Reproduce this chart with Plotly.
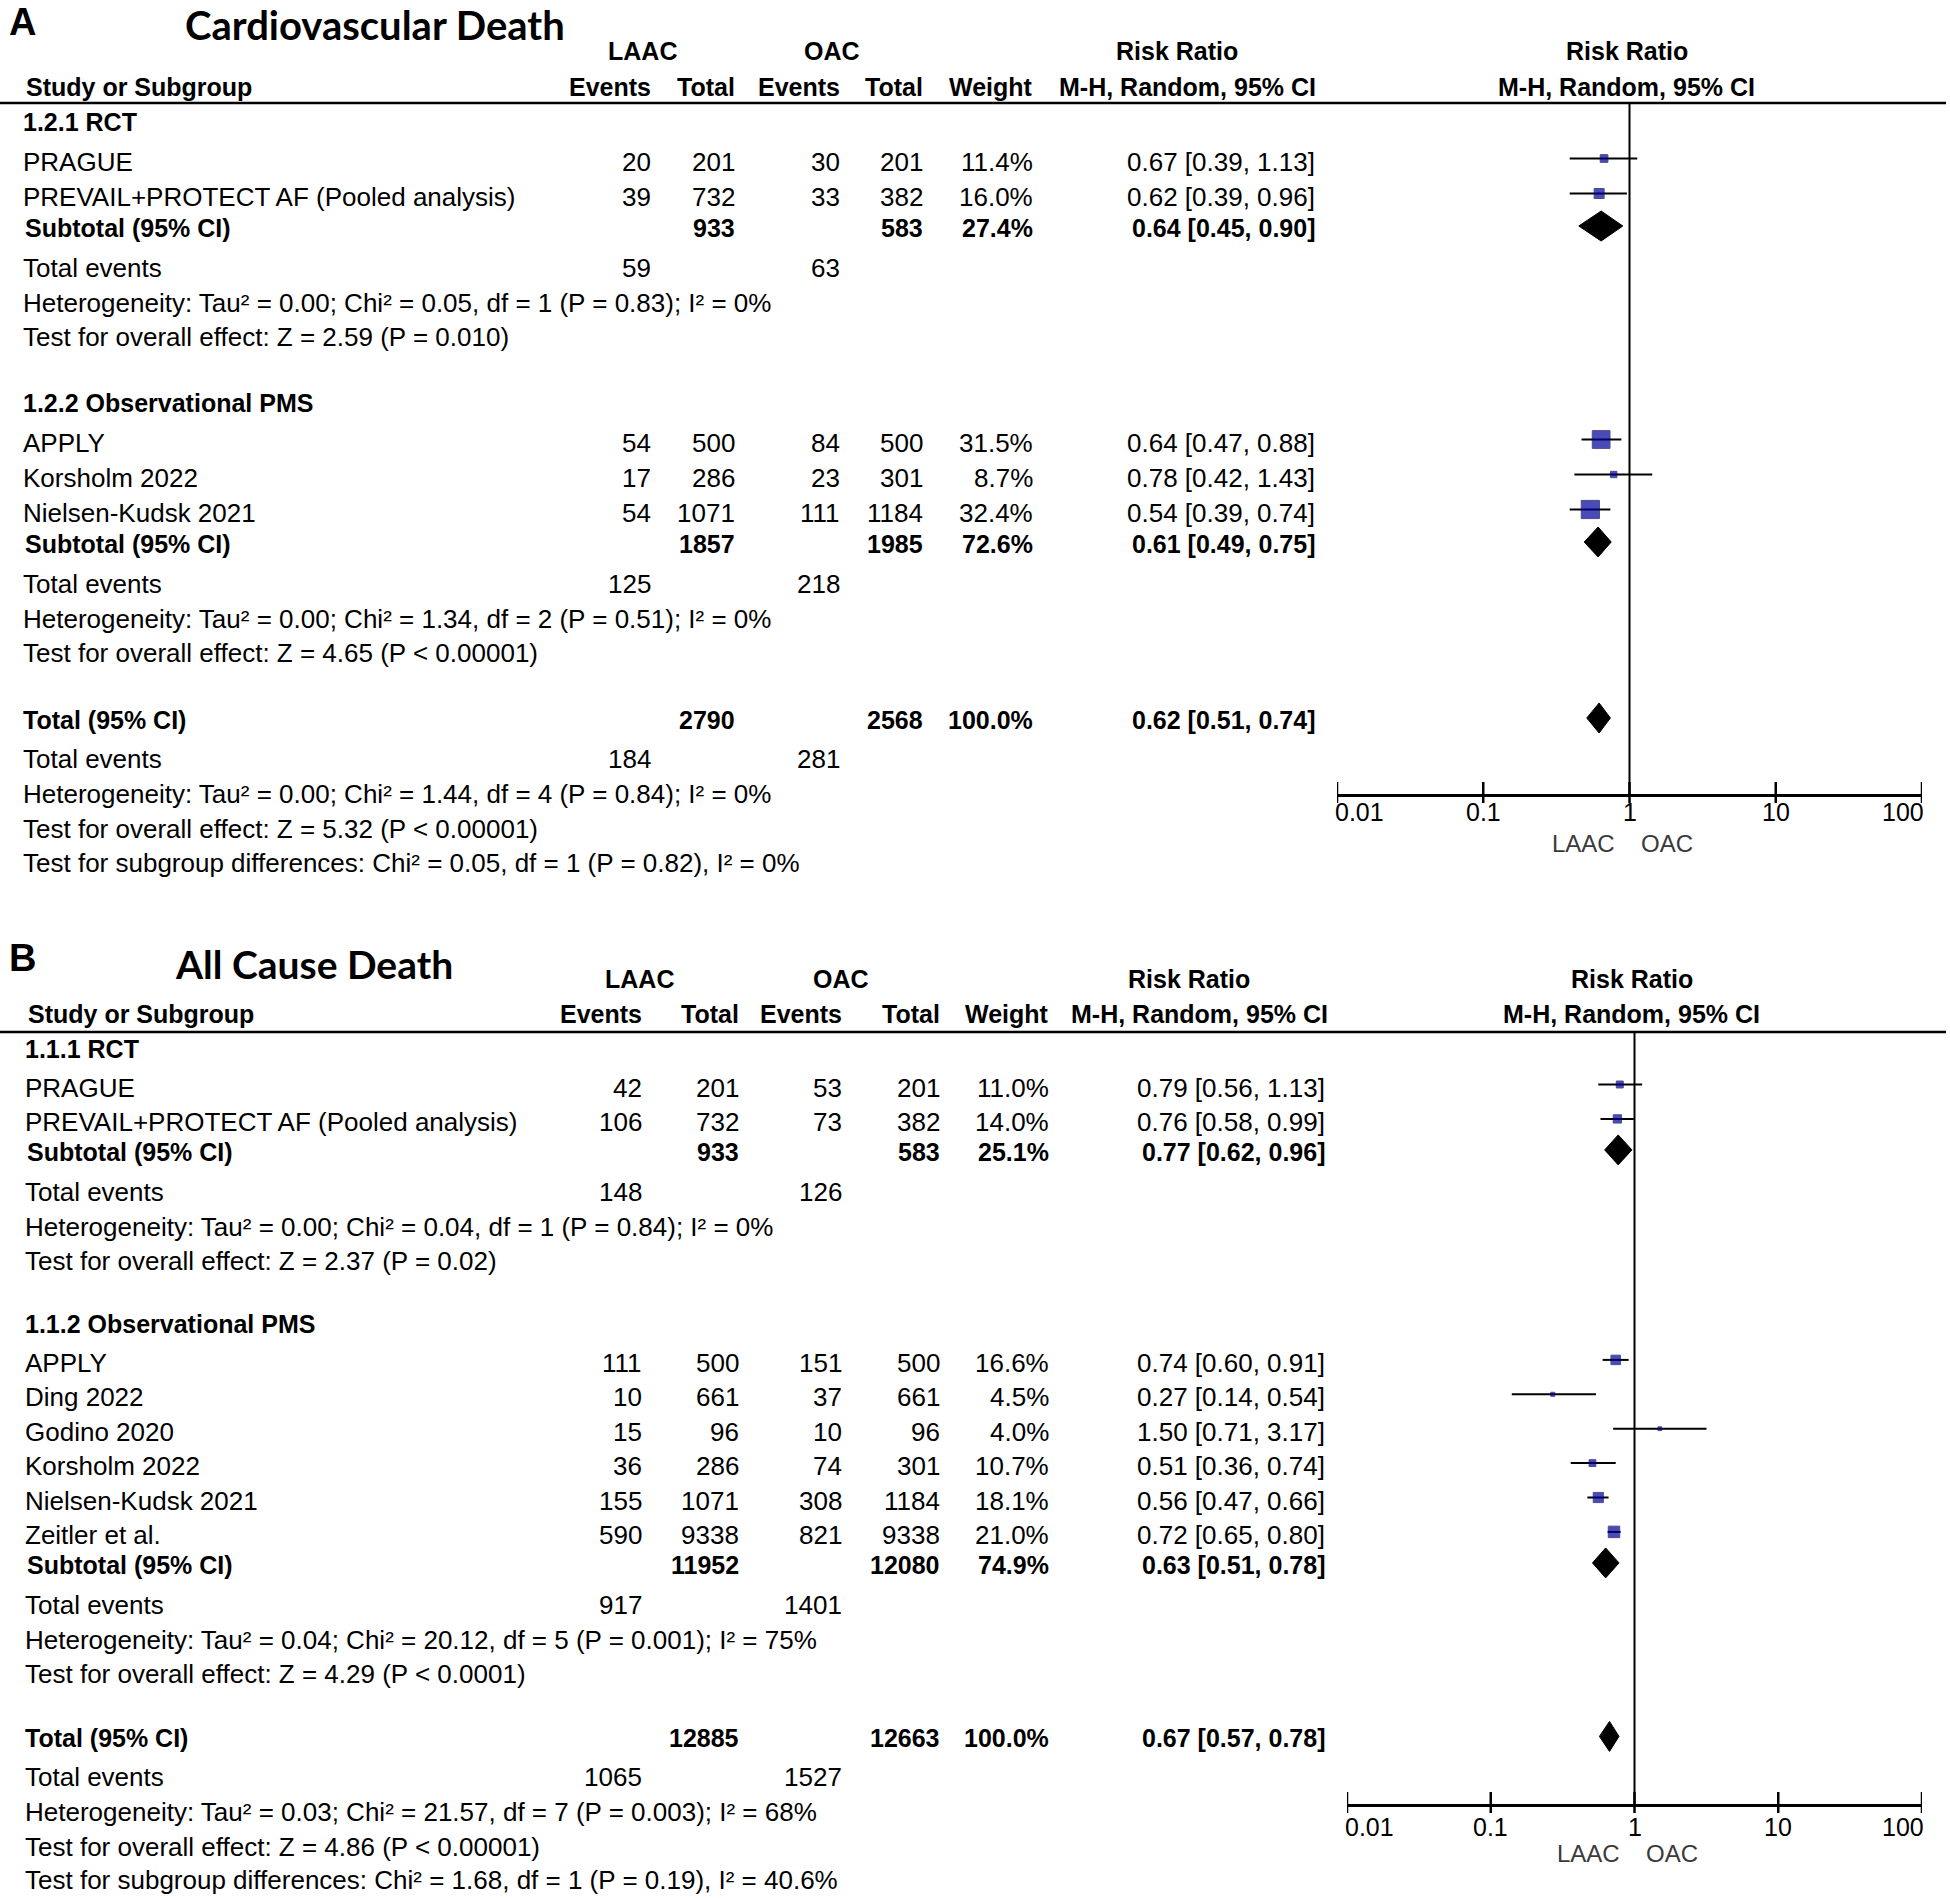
import math
import plotly.graph_objects as go

W, H = 1950, 1899
FONT = "Liberation Sans, Arial, sans-serif"
TITLE_FONT = "Lato, Liberation Sans, sans-serif"

# ---------------- Panel A data ----------------
a_title = "Cardiovascular Death"
a_groups = ["1.2.1 RCT", "1.2.2 Observational PMS"]
a_study = ["PRAGUE", "PREVAIL+PROTECT AF (Pooled analysis)", "APPLY", "Korsholm 2022", "Nielsen-Kudsk 2021"]
a_group_of = [0, 0, 1, 1, 1]
a_laac_events = [20, 39, 54, 17, 54]
a_laac_total = [201, 732, 500, 286, 1071]
a_oac_events = [30, 33, 84, 23, 111]
a_oac_total = [201, 382, 500, 301, 1184]
a_weight = [11.4, 16.0, 31.5, 8.7, 32.4]
a_rr = [0.67, 0.62, 0.64, 0.78, 0.54]
a_lo = [0.39, 0.39, 0.47, 0.42, 0.39]
a_hi = [1.13, 0.96, 0.88, 1.43, 0.74]
a_sub_laac_total = [933, 1857]
a_sub_oac_total = [583, 1985]
a_sub_weight = [27.4, 72.6]
a_sub_rr = [0.64, 0.61]
a_sub_lo = [0.45, 0.49]
a_sub_hi = [0.90, 0.75]
a_sub_laac_events = [59, 125]
a_sub_oac_events = [63, 218]
a_sub_het = ["Heterogeneity: Tau² = 0.00; Chi² = 0.05, df = 1 (P = 0.83); I² = 0%",
             "Heterogeneity: Tau² = 0.00; Chi² = 1.34, df = 2 (P = 0.51); I² = 0%"]
a_sub_test = ["Test for overall effect: Z = 2.59 (P = 0.010)",
              "Test for overall effect: Z = 4.65 (P < 0.00001)"]
a_total_n = [2790, 2568]
a_total_weight = 100.0
a_total_ci = [0.62, 0.51, 0.74]
a_total_events = [184, 281]
a_total_het = "Heterogeneity: Tau² = 0.00; Chi² = 1.44, df = 4 (P = 0.84); I² = 0%"
a_total_test = "Test for overall effect: Z = 5.32 (P < 0.00001)"
a_subgroup_test = "Test for subgroup differences: Chi² = 0.05, df = 1 (P = 0.82), I² = 0%"

# ---------------- Panel B data ----------------
b_title = "All Cause Death"
b_groups = ["1.1.1 RCT", "1.1.2 Observational PMS"]
b_study = ["PRAGUE", "PREVAIL+PROTECT AF (Pooled analysis)", "APPLY", "Ding 2022", "Godino 2020",
           "Korsholm 2022", "Nielsen-Kudsk 2021", "Zeitler et al."]
b_group_of = [0, 0, 1, 1, 1, 1, 1, 1]
b_laac_events = [42, 106, 111, 10, 15, 36, 155, 590]
b_laac_total = [201, 732, 500, 661, 96, 286, 1071, 9338]
b_oac_events = [53, 73, 151, 37, 10, 74, 308, 821]
b_oac_total = [201, 382, 500, 661, 96, 301, 1184, 9338]
b_weight = [11.0, 14.0, 16.6, 4.5, 4.0, 10.7, 18.1, 21.0]
b_rr = [0.79, 0.76, 0.74, 0.27, 1.50, 0.51, 0.56, 0.72]
b_lo = [0.56, 0.58, 0.60, 0.14, 0.71, 0.36, 0.47, 0.65]
b_hi = [1.13, 0.99, 0.91, 0.54, 3.17, 0.74, 0.66, 0.80]
b_sub_laac_total = [933, 11952]
b_sub_oac_total = [583, 12080]
b_sub_weight = [25.1, 74.9]
b_sub_rr = [0.77, 0.63]
b_sub_lo = [0.62, 0.51]
b_sub_hi = [0.96, 0.78]
b_sub_laac_events = [148, 917]
b_sub_oac_events = [126, 1401]
b_sub_het = ["Heterogeneity: Tau² = 0.00; Chi² = 0.04, df = 1 (P = 0.84); I² = 0%",
             "Heterogeneity: Tau² = 0.04; Chi² = 20.12, df = 5 (P = 0.001); I² = 75%"]
b_sub_test = ["Test for overall effect: Z = 2.37 (P = 0.02)",
              "Test for overall effect: Z = 4.29 (P < 0.0001)"]
b_total_n = [12885, 12663]
b_total_weight = 100.0
b_total_ci = [0.67, 0.57, 0.78]
b_total_events = [1065, 1527]
b_total_het = "Heterogeneity: Tau² = 0.03; Chi² = 21.57, df = 7 (P = 0.003); I² = 68%"
b_total_test = "Test for overall effect: Z = 4.86 (P < 0.00001)"
b_subgroup_test = "Test for subgroup differences: Chi² = 1.68, df = 1 (P = 0.19), I² = 40.6%"

# ---------------- shared labels ----------------
arm_labels = ["LAAC", "OAC"]
col_headers = ["Events", "Total", "Events", "Total", "Weight"]
rr_header = ["Risk Ratio", "M-H, Random, 95% CI"]
study_header = "Study or Subgroup"
subtotal_label = "Subtotal (95% CI)"
total_label = "Total (95% CI)"
events_label = "Total events"
tick_vals = [0.01, 0.1, 1, 10, 100]
tick_text = ["0.01", "0.1", "1", "10", "100"]

panels = [
    dict(letter="A", title=a_title, groups=a_groups, study=a_study, group_of=a_group_of,
         le=a_laac_events, lt=a_laac_total, oe=a_oac_events, ot=a_oac_total, w=a_weight,
         rr=a_rr, lo=a_lo, hi=a_hi, s_lt=a_sub_laac_total, s_ot=a_sub_oac_total, s_w=a_sub_weight,
         s_rr=a_sub_rr, s_lo=a_sub_lo, s_hi=a_sub_hi, s_le=a_sub_laac_events, s_oe=a_sub_oac_events,
         s_het=a_sub_het, s_test=a_sub_test, t_n=a_total_n, t_w=a_total_weight, t_ci=a_total_ci,
         t_ev=a_total_events, t_het=a_total_het, t_test=a_total_test, sg_test=a_subgroup_test),
    dict(letter="B", title=b_title, groups=b_groups, study=b_study, group_of=b_group_of,
         le=b_laac_events, lt=b_laac_total, oe=b_oac_events, ot=b_oac_total, w=b_weight,
         rr=b_rr, lo=b_lo, hi=b_hi, s_lt=b_sub_laac_total, s_ot=b_sub_oac_total, s_w=b_sub_weight,
         s_rr=b_sub_rr, s_lo=b_sub_lo, s_hi=b_sub_hi, s_le=b_sub_laac_events, s_oe=b_sub_oac_events,
         s_het=b_sub_het, s_test=b_sub_test, t_n=b_total_n, t_w=b_total_weight, t_ci=b_total_ci,
         t_ev=b_total_events, t_het=b_total_het, t_test=b_total_test, sg_test=b_subgroup_test),
]

# ---------------- layout (pixel positions, styles) ----------------
layouts = [
    dict(letter_top=0, title_x=184, title_top=0, title_size=40,
         head1_y=51, head2_y=87, line_y=103,
         laac_cx=642, oac_cx=832, rr_cx=1177, mh_cx=1187,
         c_le=652, c_lt=736, c_oe=841, c_ot=924, c_w=1034, c_ci=1316, label_x=22,
         forest=(1337, 1922), axis_y=795, tick_lab_dy=17, sq=(2.0, 0.5),
         gaps=dict(group_first=19, study_after_group=39.5, study=35, subtotal=31.5, events=39.5,
                   het=35, test=34.5, group_after=66, total_after=67, events_after_total=39,
                   subgroup=34)),
    dict(letter_top=936, title_x=174, title_top=940, title_size=39,
         head1_y=979, head2_y=1014, line_y=1032,
         laac_cx=639, oac_cx=841, rr_cx=1189, mh_cx=1199,
         c_le=643, c_lt=740, c_oe=843, c_ot=941, c_w=1050, c_ci=1326, label_x=24,
         forest=(1347, 1922), axis_y=1805, tick_lab_dy=22, sq=(2.0, 0.45),
         gaps=dict(group_first=17, study_after_group=38.5, study=34.4, subtotal=30, events=40,
                   het=35, test=34.5, group_after=63, total_after=64, events_after_total=39,
                   subgroup=33.5)),
]

fig = go.Figure()
annotations = []
shapes = []


def txt(x, y, s, anchor="left", bold=False, size=26, color="black", xref="x", family=FONT,
        xshift=0, yanchor="middle"):
    annotations.append(dict(x=x, y=y, xref=xref, yref="y", text=f"<b>{s}</b>" if bold else s,
                            showarrow=False, xanchor=anchor, yanchor=yanchor, xshift=xshift,
                            borderpad=0, font=dict(family=family, size=size, color=color)))


def ci_text(rr, lo, hi):
    return f"{rr:.2f} [{lo:.2f}, {hi:.2f}]"


layout_axes = {}
for pi, (d, L) in enumerate(zip(panels, layouts)):
    xa = f"x{pi + 2}"
    xa_key = f"xaxis{pi + 2}"
    g = L["gaps"]
    # letter + title
    txt(8, L["letter_top"], d["letter"], bold=True, size=38, yanchor="top")
    txt(L["title_x"], L["title_top"], d["title"], bold=True, size=L["title_size"],
        family=TITLE_FONT, yanchor="top")
    # headers
    txt(L["laac_cx"], L["head1_y"], arm_labels[0], anchor="center", bold=True, size=25)
    txt(L["oac_cx"], L["head1_y"], arm_labels[1], anchor="center", bold=True, size=25)
    txt(L["rr_cx"], L["head1_y"], rr_header[0], anchor="center", bold=True, size=25)
    txt(L["mh_cx"], L["head2_y"], rr_header[1], anchor="center", bold=True, size=25)
    txt(0, L["head1_y"], rr_header[0], anchor="center", bold=True, size=25, xref=xa, xshift=-3)
    txt(0, L["head2_y"], rr_header[1], anchor="center", bold=True, size=25, xref=xa, xshift=-3)
    txt(L["label_x"] + 3, L["head2_y"], study_header, bold=True, size=25)
    for hx, ht in zip([L["c_le"], L["c_lt"], L["c_oe"], L["c_ot"], L["c_w"]], col_headers):
        txt(hx, L["head2_y"], ht, anchor="right", bold=True, size=25)
    shapes.append(dict(type="line", xref="x", yref="y", x0=0, x1=1946, y0=L["line_y"], y1=L["line_y"],
                       line=dict(color="black", width=2.5)))

    wx, wy, sx, sy, ss = [], [], [], [], []
    dx, dy = [], []
    half = 15
    y = L["line_y"]
    for gi, gname in enumerate(d["groups"]):
        y += g["group_first"] if gi == 0 else g["group_after"]
        txt(L["label_x"], y, gname, bold=True, size=25)
        first = True
        for i, name in enumerate(d["study"]):
            if d["group_of"][i] != gi:
                continue
            y += g["study_after_group"] if first else g["study"]
            first = False
            txt(L["label_x"], y, name)
            txt(L["c_le"], y, str(d["le"][i]), anchor="right")
            txt(L["c_lt"], y, str(d["lt"][i]), anchor="right")
            txt(L["c_oe"], y, str(d["oe"][i]), anchor="right")
            txt(L["c_ot"], y, str(d["ot"][i]), anchor="right")
            txt(L["c_w"], y, f"{d['w'][i]:.1f}%", anchor="right")
            txt(L["c_ci"], y, ci_text(d["rr"][i], d["lo"][i], d["hi"][i]), anchor="right")
            wx += [d["lo"][i], d["hi"][i], None]
            wy += [y - 3, y - 3, None]
            sx.append(d["rr"][i])
            sy.append(y - 3)
            ss.append(L["sq"][0] + L["sq"][1] * d["w"][i])
        y += g["subtotal"]
        txt(L["label_x"] + 2, y, subtotal_label, bold=True, size=25)
        txt(L["c_lt"], y, str(d["s_lt"][gi]), anchor="right", bold=True, size=25)
        txt(L["c_ot"], y, str(d["s_ot"][gi]), anchor="right", bold=True, size=25)
        txt(L["c_w"], y, f"{d['s_w'][gi]:.1f}%", anchor="right", bold=True, size=25)
        txt(L["c_ci"], y, ci_text(d["s_rr"][gi], d["s_lo"][gi], d["s_hi"][gi]), anchor="right",
            bold=True, size=25)
        dx += [d["s_lo"][gi], d["s_rr"][gi], d["s_hi"][gi], d["s_rr"][gi], d["s_lo"][gi], None]
        dy += [y - 2, y - 2 - half, y - 2, y - 2 + half, y - 2, None]
        y += g["events"]
        txt(L["label_x"], y, events_label)
        txt(L["c_le"], y, str(d["s_le"][gi]), anchor="right")
        txt(L["c_oe"], y, str(d["s_oe"][gi]), anchor="right")
        y += g["het"]
        txt(L["label_x"], y, d["s_het"][gi])
        y += g["test"]
        txt(L["label_x"], y, d["s_test"][gi])
    y += g["total_after"]
    txt(L["label_x"], y, total_label, bold=True, size=25)
    txt(L["c_lt"], y, str(d["t_n"][0]), anchor="right", bold=True, size=25)
    txt(L["c_ot"], y, str(d["t_n"][1]), anchor="right", bold=True, size=25)
    txt(L["c_w"], y, f"{d['t_w']:.1f}%", anchor="right", bold=True, size=25)
    txt(L["c_ci"], y, ci_text(*d["t_ci"]), anchor="right", bold=True, size=25)
    rr_t, lo_t, hi_t = d["t_ci"]
    dx += [lo_t, rr_t, hi_t, rr_t, lo_t, None]
    dy += [y - 2, y - 2 - half, y - 2, y - 2 + half, y - 2, None]
    y += g["events_after_total"]
    txt(L["label_x"], y, events_label)
    txt(L["c_le"], y, str(d["t_ev"][0]), anchor="right")
    txt(L["c_oe"], y, str(d["t_ev"][1]), anchor="right")
    y += g["het"]
    txt(L["label_x"], y, d["t_het"])
    y += g["test"]
    txt(L["label_x"], y, d["t_test"])
    y += g["subgroup"]
    txt(L["label_x"], y, d["sg_test"])

    # null line at RR = 1
    fig.add_trace(go.Scatter(x=[1, 1], y=[L["line_y"], L["axis_y"]], xaxis=xa, yaxis="y", mode="lines",
                             line=dict(color="black", width=2), hoverinfo="skip", showlegend=False))
    # axis tick marks crossing the axis line
    tx, ty = [], []
    for v in tick_vals:
        tx += [v, v, None]
        ty += [L["axis_y"] - 13, L["axis_y"] + 8, None]
    fig.add_trace(go.Scatter(x=tx, y=ty, xaxis=xa, yaxis="y", mode="lines",
                             line=dict(color="black", width=2.5), hoverinfo="skip", showlegend=False))
    # whiskers
    fig.add_trace(go.Scatter(x=wx, y=wy, xaxis=xa, yaxis="y", mode="lines",
                             line=dict(color="black", width=2), hoverinfo="skip", showlegend=False))
    # squares
    fig.add_trace(go.Scatter(x=sx, y=sy, xaxis=xa, yaxis="y", mode="markers",
                             marker=dict(symbol="square", size=ss, color="#00009A",
                                         line=dict(color="#000060", width=1)),
                             hoverinfo="skip", showlegend=False))
    # diamonds
    fig.add_trace(go.Scatter(x=dx, y=dy, xaxis=xa, yaxis="y", mode="lines", fill="toself",
                             fillcolor="black", line=dict(color="black", width=1),
                             hoverinfo="skip", showlegend=False))
    # tick labels (end labels kept inside the axis span)
    for k, (v, t) in enumerate(zip(tick_vals, tick_text)):
        anc = "left" if k == 0 else ("right" if k == len(tick_vals) - 1 else "center")
        txt(math.log10(v), L["axis_y"] + L["tick_lab_dy"], t, anchor=anc, size=25, xref=xa,
            xshift=(-3 if k == 0 else (3 if k == len(tick_vals) - 1 else 0)))
    # favours labels under axis
    lab_y = L["axis_y"] + 48
    txt(0, lab_y, arm_labels[0], anchor="right", size=24, color="#3a3a3a", xref=xa, xshift=-14)
    txt(0, lab_y, arm_labels[1], anchor="left", size=24, color="#3a3a3a", xref=xa, xshift=10)

    layout_axes[xa_key] = dict(
        type="log", range=[-2, 2], domain=[L["forest"][0] / W, L["forest"][1] / W],
        anchor="free", position=1 - L["axis_y"] / H, showline=True, linecolor="black", linewidth=2.5,
        ticks="", showticklabels=False, automargin=False,
        showgrid=False, zeroline=False, fixedrange=True,
    )

fig.update_layout(
    width=W, height=H, autosize=False,
    margin=dict(l=0, r=0, t=0, b=0, pad=0, autoexpand=False),
    paper_bgcolor="white", plot_bgcolor="rgba(0,0,0,0)",
    xaxis=dict(range=[0, W], domain=[0, 1], visible=False, fixedrange=True, automargin=False),
    yaxis=dict(range=[H, 0], domain=[0, 1], visible=False, fixedrange=True, automargin=False),
    annotations=annotations, shapes=shapes, showlegend=False,
    **layout_axes,
)

fig.write_html(
    "out.html",
    config={"responsive": False, "displayModeBar": False},
    post_script="document.body.style.margin='0px';document.body.style.overflow='hidden';",
)
